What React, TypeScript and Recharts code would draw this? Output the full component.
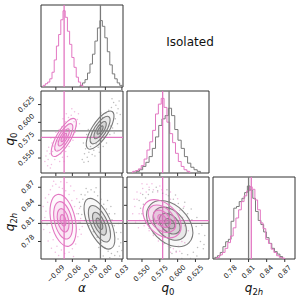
import React from 'react'
import { ComposedChart, Line, ReferenceArea, ReferenceLine, Scatter, XAxis, YAxis } from 'recharts'

const PINK = '#e377c2'
const GRAY = '#7a7a7a'
const FRAME = '#333333'
const FONT = '"DejaVu Sans", sans-serif'
const FS = 7

// panel geometry (px)
const SIZE = 82
const STEP = 86
const X0 = 41
const Y0 = 5
const ML = 40
const MR = 24
const MT = 3
const MB = 34

// axes
const alphaDomain = [-0.117, 0.032]
const q0Domain = [0.529, 0.644]
const q2hDomain = [0.751, 0.887]
const histDomain = [0, 1]
const alphaTicks = [-0.09, -0.06, -0.03, 0, 0.03]
const alphaTickLabels = ['−0.09', '−0.06', '−0.03', '0.00', '0.03']
const q0Ticks = [0.55, 0.575, 0.6, 0.625]
const q0TickLabels = ['0.550', '0.575', '0.600', '0.625']
const q2hTicks = [0.78, 0.81, 0.84, 0.87]
const q2hTickLabels = ['0.78', '0.81', '0.84', '0.87']

// truth / reference values
const pinkTruth = { alpha: -0.075, q0: 0.579, q2h: 0.8145 }
const grayTruth = { alpha: -0.009, q0: 0.588, q2h: 0.81 }

// 1D histograms: bin edges and normalised counts
const pinkAlphaEdges = [-0.113, -0.109, -0.105, -0.101, -0.097, -0.093, -0.089, -0.085, -0.081, -0.077, -0.073, -0.069, -0.065, -0.061, -0.057, -0.053, -0.049, -0.045, -0.041]
const pinkAlphaCounts = [0.02, 0.04, 0.06, 0.1, 0.18, 0.33, 0.5, 0.64, 0.82, 0.93, 0.85, 0.68, 0.52, 0.36, 0.24, 0.12, 0.06, 0.02]
const grayAlphaEdges = [-0.046, -0.0415, -0.037, -0.0325, -0.028, -0.0235, -0.019, -0.0145, -0.01, -0.0055, -0.001, 0.0035, 0.008, 0.0125, 0.017, 0.0215, 0.026, 0.0305]
const grayAlphaCounts = [0.02, 0.05, 0.09, 0.17, 0.28, 0.4, 0.56, 0.72, 0.81, 0.74, 0.6, 0.43, 0.27, 0.16, 0.1, 0.05, 0.02]

const pinkQ0Edges = [0.537, 0.541, 0.545, 0.549, 0.553, 0.557, 0.561, 0.565, 0.569, 0.573, 0.577, 0.581, 0.585, 0.589, 0.593, 0.597, 0.601, 0.605, 0.609, 0.613, 0.617]
const pinkQ0Counts = [0.02, 0.03, 0.05, 0.09, 0.17, 0.28, 0.38, 0.52, 0.72, 0.84, 0.91, 0.8, 0.62, 0.48, 0.37, 0.24, 0.14, 0.08, 0.04, 0.02]
const grayQ0Edges = [0.542, 0.5465, 0.551, 0.5555, 0.56, 0.5645, 0.569, 0.5735, 0.578, 0.5825, 0.587, 0.5915, 0.596, 0.6005, 0.605, 0.6095, 0.614, 0.6185, 0.623, 0.6275, 0.632]
const grayQ0Counts = [0.02, 0.04, 0.08, 0.13, 0.2, 0.3, 0.44, 0.58, 0.66, 0.7, 0.79, 0.7, 0.53, 0.4, 0.3, 0.2, 0.12, 0.07, 0.04, 0.02]

const pinkQ2hEdges = [0.7575, 0.762, 0.7665, 0.771, 0.7755, 0.78, 0.7845, 0.789, 0.7935, 0.798, 0.8025, 0.807, 0.8115, 0.816, 0.8205, 0.825, 0.8295, 0.834, 0.8385, 0.843, 0.8475, 0.852, 0.8565, 0.861, 0.8655, 0.87]
const pinkQ2hCounts = [0.02, 0.05, 0.08, 0.13, 0.2, 0.28, 0.38, 0.5, 0.6, 0.7, 0.77, 0.83, 0.88, 0.85, 0.72, 0.6, 0.44, 0.37, 0.24, 0.19, 0.12, 0.08, 0.04, 0.02, 0.01]
const grayQ2hEdges = [0.754, 0.7585, 0.763, 0.7675, 0.772, 0.7765, 0.781, 0.7855, 0.79, 0.7945, 0.799, 0.8035, 0.808, 0.8125, 0.817, 0.8215, 0.826, 0.8305, 0.835, 0.8395, 0.844, 0.8485, 0.853, 0.8575, 0.862, 0.8665]
const grayQ2hCounts = [0.02, 0.04, 0.08, 0.15, 0.21, 0.24, 0.46, 0.62, 0.64, 0.7, 0.74, 0.81, 0.89, 0.84, 0.74, 0.58, 0.47, 0.42, 0.33, 0.26, 0.19, 0.13, 0.09, 0.06, 0.03]

// 2D contours (outer -> inner), each a ring of control points
type P = [number, number]
const pinkAlphaQ0Rings: P[][] = [
  [[-0.0536, 0.6079], [-0.0512, 0.5953], [-0.0632, 0.5731], [-0.0824, 0.5542], [-0.0976, 0.5498], [-0.1, 0.5624], [-0.088, 0.5846], [-0.0688, 0.6035]],
  [[-0.0598, 0.5998], [-0.058, 0.5907], [-0.0667, 0.5747], [-0.0805, 0.5611], [-0.0914, 0.558], [-0.0932, 0.5671], [-0.0845, 0.5831], [-0.0707, 0.5967]],
  [[-0.0657, 0.592], [-0.0646, 0.5863], [-0.07, 0.5763], [-0.0787, 0.5678], [-0.0855, 0.5658], [-0.0866, 0.5715], [-0.0812, 0.5815], [-0.0725, 0.59]],
  [[-0.0708, 0.5853], [-0.0702, 0.5825], [-0.0729, 0.5776], [-0.0771, 0.5735], [-0.0804, 0.5725], [-0.081, 0.5753], [-0.0783, 0.5802], [-0.0741, 0.5843]],
]
const grayAlphaQ0Rings: P[][] = [
  [[0.0147, 0.618], [0.0173, 0.6046], [0.0042, 0.5821], [-0.0171, 0.5638], [-0.0339, 0.5604], [-0.0365, 0.5738], [-0.0234, 0.5963], [-0.0021, 0.6146]],
  [[0.0079, 0.6099], [0.0098, 0.6003], [0.0003, 0.5841], [-0.015, 0.5709], [-0.0271, 0.5685], [-0.029, 0.5781], [-0.0195, 0.5943], [-0.0042, 0.6075]],
  [[0.0013, 0.6022], [0.0025, 0.5961], [-0.0034, 0.586], [-0.013, 0.5778], [-0.0205, 0.5762], [-0.0217, 0.5823], [-0.0158, 0.5924], [-0.0062, 0.6006]],
  [[-0.0043, 0.5955], [-0.0037, 0.5926], [-0.0066, 0.5876], [-0.0113, 0.5836], [-0.0149, 0.5829], [-0.0155, 0.5858], [-0.0126, 0.5908], [-0.0079, 0.5948]],
]
const pinkAlphaQ2hRings: P[][] = [
  [[-0.0653, 0.7676], [-0.0518, 0.785], [-0.053, 0.82], [-0.068, 0.8521], [-0.0883, 0.8626], [-0.1018, 0.8452], [-0.1006, 0.8102], [-0.0856, 0.7781]],
  [[-0.0685, 0.7809], [-0.0588, 0.7934], [-0.0597, 0.8186], [-0.0705, 0.8417], [-0.0851, 0.8493], [-0.0948, 0.8368], [-0.0939, 0.8116], [-0.0831, 0.7885]],
  [[-0.0716, 0.7937], [-0.0655, 0.8016], [-0.0661, 0.8173], [-0.0728, 0.8318], [-0.082, 0.8365], [-0.0881, 0.8286], [-0.0875, 0.8129], [-0.0808, 0.7984]],
  [[-0.0743, 0.8046], [-0.0713, 0.8085], [-0.0716, 0.8162], [-0.0749, 0.8232], [-0.0793, 0.8256], [-0.0823, 0.8217], [-0.082, 0.814], [-0.0787, 0.807]],
]
const grayAlphaQ2hRings: P[][] = [
  [[0.0124, 0.7638], [0.0202, 0.7835], [0.0098, 0.8184], [-0.0125, 0.8482], [-0.034, 0.8552], [-0.0418, 0.8355], [-0.0314, 0.8006], [-0.0091, 0.7708]],
  [[0.0059, 0.7766], [0.0115, 0.7908], [0.004, 0.8159], [-0.012, 0.8374], [-0.0275, 0.8424], [-0.0331, 0.8282], [-0.0256, 0.8031], [-0.0096, 0.7816]],
  [[-0.0004, 0.7889], [0.0032, 0.7978], [-0.0015, 0.8135], [-0.0116, 0.8269], [-0.0212, 0.8301], [-0.0248, 0.8212], [-0.0201, 0.8055], [-0.01, 0.7921]],
  [[-0.0057, 0.7994], [-0.004, 0.8038], [-0.0063, 0.8115], [-0.0112, 0.818], [-0.0159, 0.8196], [-0.0176, 0.8152], [-0.0153, 0.8075], [-0.0104, 0.801]],
]
const pinkQ0Q2hRings: P[][] = [
  [[0.603, 0.7885], [0.6073, 0.8107], [0.5945, 0.8372], [0.5721, 0.8522], [0.5532, 0.8471], [0.5489, 0.8249], [0.5617, 0.7984], [0.5841, 0.7834]],
  [[0.596, 0.7967], [0.5991, 0.8127], [0.5899, 0.8318], [0.5738, 0.8426], [0.5602, 0.8389], [0.5571, 0.8229], [0.5663, 0.8038], [0.5824, 0.793]],
  [[0.5893, 0.8046], [0.5912, 0.8146], [0.5855, 0.8265], [0.5754, 0.8333], [0.5669, 0.831], [0.565, 0.821], [0.5707, 0.8091], [0.5808, 0.8023]],
  [[0.5836, 0.8114], [0.5845, 0.8162], [0.5817, 0.8221], [0.5768, 0.8254], [0.5726, 0.8242], [0.5717, 0.8194], [0.5745, 0.8135], [0.5794, 0.8102]],
]
const grayQ0Q2hRings: P[][] = [
  [[0.6187, 0.7744], [0.6242, 0.8015], [0.609, 0.8333], [0.582, 0.8512], [0.5591, 0.8448], [0.5536, 0.8177], [0.5688, 0.7859], [0.5958, 0.768]],
  [[0.6104, 0.7843], [0.6143, 0.8038], [0.6034, 0.8267], [0.5839, 0.8396], [0.5674, 0.8349], [0.5635, 0.8154], [0.5744, 0.7925], [0.5939, 0.7796]],
  [[0.6023, 0.7938], [0.6048, 0.806], [0.5979, 0.8203], [0.5858, 0.8283], [0.5755, 0.8254], [0.573, 0.8132], [0.5799, 0.7989], [0.592, 0.7909]],
  [[0.5955, 0.8019], [0.5967, 0.8078], [0.5933, 0.8148], [0.5874, 0.8188], [0.5823, 0.8173], [0.5811, 0.8114], [0.5845, 0.8044], [0.5904, 0.8004]],
]

// samples outside the outer contour
const pinkAlphaQ0Cloud: P[] = [[-0.104, 0.548], [-0.101, 0.556], [-0.098, 0.541], [-0.106, 0.56], [-0.095, 0.567], [-0.092, 0.548], [-0.089, 0.553], [-0.087, 0.574], [-0.093, 0.578], [-0.083, 0.545], [-0.078, 0.551], [-0.072, 0.559], [-0.066, 0.566], [-0.059, 0.575], [-0.055, 0.586], [-0.051, 0.604], [-0.049, 0.612], [-0.056, 0.615], [-0.062, 0.61], [-0.067, 0.607], [-0.073, 0.601], [-0.079, 0.594], [-0.084, 0.59], [-0.097, 0.571], [-0.103, 0.565], [-0.061, 0.619], [-0.047, 0.598], [-0.11, 0.545], [-0.1, 0.536], [-0.058, 0.583],
  [-0.108, 0.553], [-0.096, 0.559], [-0.091, 0.562], [-0.086, 0.561], [-0.081, 0.556], [-0.075, 0.545], [-0.069, 0.552], [-0.064, 0.574], [-0.053, 0.595], [-0.057, 0.601], [-0.071, 0.612], [-0.077, 0.605], [-0.09, 0.586], [-0.099, 0.578], [-0.105, 0.539]]
const grayAlphaQ0Cloud: P[] = [[-0.038, 0.556], [-0.036, 0.563], [-0.033, 0.551], [-0.03, 0.558], [-0.04, 0.571], [-0.027, 0.566], [-0.024, 0.555], [-0.021, 0.561], [-0.028, 0.578], [-0.034, 0.583], [-0.017, 0.57], [-0.013, 0.565], [-0.008, 0.575], [-0.002, 0.579], [0.004, 0.588], [0.009, 0.595], [0.013, 0.592], [0.018, 0.605], [0.021, 0.613], [0.019, 0.624], [0.015, 0.628], [0.011, 0.621], [0.006, 0.617], [0.001, 0.613], [-0.005, 0.607], [-0.01, 0.601], [-0.016, 0.596], [0.023, 0.619], [-0.042, 0.548], [0.025, 0.63],
  [-0.039, 0.544], [-0.031, 0.545], [-0.026, 0.572], [-0.019, 0.553], [-0.011, 0.558], [-0.004, 0.566], [0.002, 0.571], [0.008, 0.583], [0.016, 0.585], [0.022, 0.598], [0.027, 0.611], [0.012, 0.633], [-0.008, 0.613], [-0.02, 0.589], [-0.031, 0.59]]
const pinkAlphaQ2hCloud: P[] = [[-0.108, 0.83], [-0.105, 0.845], [-0.103, 0.858], [-0.1, 0.866], [-0.096, 0.872], [-0.09, 0.875], [-0.084, 0.87], [-0.078, 0.868], [-0.072, 0.864], [-0.066, 0.858], [-0.061, 0.848], [-0.056, 0.838], [-0.052, 0.826], [-0.049, 0.812], [-0.047, 0.8], [-0.05, 0.788], [-0.054, 0.776], [-0.06, 0.768], [-0.066, 0.762], [-0.074, 0.76], [-0.08, 0.766], [-0.088, 0.772], [-0.095, 0.783], [-0.101, 0.795], [-0.106, 0.808], [-0.11, 0.82], [-0.113, 0.838], [-0.044, 0.792], [-0.058, 0.755], [-0.07, 0.878],
  [-0.112, 0.8], [-0.109, 0.852], [-0.104, 0.781], [-0.098, 0.769], [-0.091, 0.762], [-0.085, 0.757], [-0.063, 0.872], [-0.057, 0.864], [-0.052, 0.851], [-0.047, 0.835], [-0.045, 0.818], [-0.042, 0.805], [-0.094, 0.88], [-0.081, 0.879], [-0.115, 0.812]]
const grayAlphaQ2hCloud: P[] = [[-0.045, 0.838], [-0.043, 0.825], [-0.041, 0.85], [-0.037, 0.857], [-0.032, 0.862], [-0.026, 0.866], [-0.02, 0.862], [-0.014, 0.856], [-0.008, 0.85], [-0.003, 0.842], [0.002, 0.834], [0.007, 0.826], [0.012, 0.816], [0.016, 0.806], [0.02, 0.795], [0.023, 0.784], [0.025, 0.772], [0.022, 0.763], [0.017, 0.757], [0.011, 0.76], [0.005, 0.764], [-0.001, 0.77], [-0.008, 0.778], [-0.015, 0.787], [-0.022, 0.796], [-0.03, 0.806], [-0.037, 0.815], [-0.046, 0.812], [0.028, 0.778], [-0.004, 0.756],
  [-0.049, 0.826], [-0.047, 0.845], [-0.044, 0.858], [-0.035, 0.868], [-0.017, 0.869], [-0.009, 0.862], [0.004, 0.848], [0.01, 0.838], [0.017, 0.826], [0.024, 0.81], [0.028, 0.795], [0.03, 0.765], [0.026, 0.756], [0.008, 0.753], [-0.012, 0.77]]
const pinkQ0Q2hCloud: P[] = [[0.54, 0.838], [0.543, 0.85], [0.546, 0.826], [0.548, 0.86], [0.551, 0.868], [0.556, 0.862], [0.56, 0.87], [0.566, 0.866], [0.572, 0.862], [0.578, 0.866], [0.584, 0.858], [0.59, 0.85], [0.596, 0.842], [0.603, 0.832], [0.607, 0.82], [0.61, 0.806], [0.611, 0.792], [0.606, 0.78], [0.601, 0.772], [0.594, 0.768], [0.587, 0.772], [0.58, 0.776], [0.573, 0.781], [0.566, 0.79], [0.56, 0.798], [0.553, 0.806], [0.547, 0.815], [0.541, 0.812], [0.598, 0.762], [0.557, 0.875],
  [0.537, 0.826], [0.539, 0.85], [0.543, 0.862], [0.55, 0.876], [0.564, 0.876], [0.575, 0.872], [0.59, 0.862], [0.6, 0.851], [0.609, 0.838], [0.614, 0.815], [0.615, 0.798], [0.61, 0.778], [0.603, 0.764], [0.59, 0.762], [0.545, 0.803]]
const grayQ0Q2hCloud: P[] = [[0.552, 0.842], [0.555, 0.852], [0.559, 0.858], [0.565, 0.862], [0.572, 0.864], [0.579, 0.86], [0.587, 0.856], [0.594, 0.85], [0.601, 0.843], [0.608, 0.835], [0.614, 0.826], [0.62, 0.816], [0.626, 0.805], [0.63, 0.793], [0.632, 0.78], [0.628, 0.77], [0.622, 0.762], [0.614, 0.758], [0.606, 0.76], [0.598, 0.764], [0.59, 0.77], [0.582, 0.777], [0.574, 0.785], [0.566, 0.793], [0.56, 0.802], [0.555, 0.812], [0.55, 0.826], [0.636, 0.768], [0.548, 0.835], [0.618, 0.752],
  [0.546, 0.848], [0.551, 0.858], [0.56, 0.866], [0.57, 0.87], [0.585, 0.866], [0.597, 0.857], [0.61, 0.845], [0.619, 0.834], [0.627, 0.82], [0.634, 0.807], [0.638, 0.79], [0.637, 0.775], [0.627, 0.756], [0.606, 0.752], [0.592, 0.76]]

const ringOpacity = [0.05, 0.12, 0.16, 0.22]

const toPts = (list: P[]) => list.map(([x, y]) => ({ x, y }))
const toSteps = (edges: number[], counts: number[]) => [
  { x: edges[0], y: 0 },
  ...counts.map((c, i) => ({ x: edges[i], y: c })),
  { x: edges[edges.length - 1], y: 0 },
]

function labelHalf(s: string) {
  let w = 0
  for (const c of s) w += c === '.' ? 0.318 : c === '−' ? 0.838 : 0.636
  return (w * FS + FS) * 0.3536
}

function XTick(props: any) {
  const { x, y, payload, ticks, labels } = props
  const s = labels[ticks.indexOf(payload.value)] ?? ''
  const cy = y + labelHalf(s)
  return (
    <text x={x} y={cy} transform={`rotate(-45, ${x}, ${cy})`} textAnchor="middle" dominantBaseline="central" fontSize={FS} fontFamily={FONT} fill="#222">
      {s}
    </text>
  )
}

function YTick(props: any) {
  const { x, y, payload, ticks, labels } = props
  const s = labels[ticks.indexOf(payload.value)] ?? ''
  const cx = x - labelHalf(s)
  return (
    <text x={cx} y={y} transform={`rotate(-45, ${cx}, ${y})`} textAnchor="middle" dominantBaseline="central" fontSize={FS} fontFamily={FONT} fill="#222">
      {s}
    </text>
  )
}

const NoTick = () => <g />

type PanelProps = {
  row: number
  col: number
  xDomain: number[]
  yDomain: number[]
  xTicks?: number[]
  xLabels?: string[]
  yTicks?: number[]
  yLabels?: string[]
  children?: React.ReactNode
}

function Panel({ row, col, xDomain, yDomain, xTicks, xLabels, yTicks, yLabels, children }: PanelProps) {
  return (
    <div style={{ position: 'absolute', left: X0 + col * STEP - ML, top: Y0 + row * STEP - MT }}>
      <ComposedChart width={ML + SIZE + MR} height={MT + SIZE + MB} margin={{ top: MT, right: MR, bottom: 0, left: 0 }}>
        <XAxis
          type="number"
          dataKey="x"
          domain={xDomain}
          allowDataOverflow
          ticks={xTicks ?? []}
          interval={0}
          height={MB}
          axisLine={false}
          tickSize={3}
          tickLine={xTicks ? { stroke: FRAME } : false}
          tick={xTicks && xLabels ? <XTick ticks={xTicks} labels={xLabels} /> : <NoTick />}
        />
        <YAxis
          type="number"
          dataKey="y"
          domain={yDomain}
          allowDataOverflow
          ticks={yTicks ?? []}
          interval={0}
          width={ML}
          axisLine={false}
          tickSize={3}
          tickLine={yTicks ? { stroke: FRAME } : false}
          tick={yTicks && yLabels ? <YTick ticks={yTicks} labels={yLabels} /> : <NoTick />}
        />
        {children}
        <ReferenceArea x1={xDomain[0]} x2={xDomain[1]} y1={yDomain[0]} y2={yDomain[1]} fill="none" stroke={FRAME} strokeWidth={1} ifOverflow="visible" />
      </ComposedChart>
    </div>
  )
}

function histLines(edgesA: number[], countsA: number[], edgesB: number[], countsB: number[], xPink: number, xGray: number) {
  return [
    <Line key="hg" data={toSteps(edgesB, countsB)} dataKey="y" type="stepAfter" stroke={GRAY} strokeWidth={1} dot={false} isAnimationActive={false} />,
    <Line key="hp" data={toSteps(edgesA, countsA)} dataKey="y" type="stepAfter" stroke={PINK} strokeWidth={1} dot={false} isAnimationActive={false} />,
    <ReferenceLine key="tg" x={xGray} stroke={GRAY} strokeWidth={1.3} ifOverflow="visible" />,
    <ReferenceLine key="tp" x={xPink} stroke={PINK} strokeWidth={1.3} ifOverflow="visible" />,
  ]
}

function densityLayers(
  pinkCloud: P[], grayCloud: P[], pinkRings: P[][], grayRings: P[][],
  pinkX: number, pinkY: number, grayX: number, grayY: number,
) {
  const dot = (color: string) => (p: any) => <circle cx={p.cx} cy={p.cy} r={0.75} fill={color} fillOpacity={0.5} />
  const ring = (color: string, pts: P[], i: number, key: string) => (
    <Scatter
      key={key}
      data={toPts(pts)}
      fill={color}
      line={{ stroke: color, strokeWidth: 1.1, fill: color, fillOpacity: ringOpacity[i] }}
      lineType="joint"
      lineJointType="basisClosed"
      shape={NoTick}
      isAnimationActive={false}
    />
  )
  return [
    <Scatter key="cg" data={toPts(grayCloud)} fill={GRAY} shape={dot(GRAY)} isAnimationActive={false} />,
    <Scatter key="cp" data={toPts(pinkCloud)} fill={PINK} shape={dot(PINK)} isAnimationActive={false} />,
    ...grayRings.map((r, i) => ring(GRAY, r, i, `rg${i}`)),
    ...pinkRings.map((r, i) => ring(PINK, r, i, `rp${i}`)),
    <ReferenceLine key="gx" x={grayX} stroke={GRAY} strokeWidth={1.3} ifOverflow="visible" />,
    <ReferenceLine key="gy" y={grayY} stroke={GRAY} strokeWidth={1.3} ifOverflow="visible" />,
    <ReferenceLine key="px" x={pinkX} stroke={PINK} strokeWidth={1.3} ifOverflow="visible" />,
    <ReferenceLine key="py" y={pinkY} stroke={PINK} strokeWidth={1.3} ifOverflow="visible" />,
  ]
}

export default function App() {
  return (
    <div style={{ position: 'absolute', left: 0, top: 0, width: 301, height: 301, background: '#fff', overflow: 'hidden' }}>
      <Panel row={0} col={0} xDomain={alphaDomain} yDomain={histDomain} xTicks={alphaTicks}>
        {histLines(pinkAlphaEdges, pinkAlphaCounts, grayAlphaEdges, grayAlphaCounts, pinkTruth.alpha, grayTruth.alpha)}
      </Panel>
      <Panel row={1} col={0} xDomain={alphaDomain} yDomain={q0Domain} xTicks={alphaTicks} yTicks={q0Ticks} yLabels={q0TickLabels}>
        {densityLayers(pinkAlphaQ0Cloud, grayAlphaQ0Cloud, pinkAlphaQ0Rings, grayAlphaQ0Rings, pinkTruth.alpha, pinkTruth.q0, grayTruth.alpha, grayTruth.q0)}
      </Panel>
      <Panel row={2} col={0} xDomain={alphaDomain} yDomain={q2hDomain} xTicks={alphaTicks} xLabels={alphaTickLabels} yTicks={q2hTicks} yLabels={q2hTickLabels}>
        {densityLayers(pinkAlphaQ2hCloud, grayAlphaQ2hCloud, pinkAlphaQ2hRings, grayAlphaQ2hRings, pinkTruth.alpha, pinkTruth.q2h, grayTruth.alpha, grayTruth.q2h)}
      </Panel>
      <Panel row={1} col={1} xDomain={q0Domain} yDomain={histDomain} xTicks={q0Ticks}>
        {histLines(pinkQ0Edges, pinkQ0Counts, grayQ0Edges, grayQ0Counts, pinkTruth.q0, grayTruth.q0)}
      </Panel>
      <Panel row={2} col={1} xDomain={q0Domain} yDomain={q2hDomain} xTicks={q0Ticks} xLabels={q0TickLabels} yTicks={q2hTicks}>
        {densityLayers(pinkQ0Q2hCloud, grayQ0Q2hCloud, pinkQ0Q2hRings, grayQ0Q2hRings, pinkTruth.q0, pinkTruth.q2h, grayTruth.q0, grayTruth.q2h)}
      </Panel>
      <Panel row={2} col={2} xDomain={q2hDomain} yDomain={histDomain} xTicks={q2hTicks} xLabels={q2hTickLabels}>
        {histLines(pinkQ2hEdges, pinkQ2hCounts, grayQ2hEdges, grayQ2hCounts, pinkTruth.q2h, grayTruth.q2h)}
      </Panel>
      <svg width={301} height={301} style={{ position: 'absolute', left: 0, top: 0, pointerEvents: 'none' }} fontFamily={FONT} fill="#111">
        <text x={190} y={46} fontSize={12} textAnchor="middle">Isolated</text>
        <text x={82} y={292} fontSize={12} textAnchor="middle" fontStyle="italic">α</text>
        <text x={168} y={292} fontSize={12} textAnchor="middle">
          <tspan fontStyle="italic">q</tspan>
          <tspan fontSize={8.5} dy={2.5}>0</tspan>
        </text>
        <text x={254} y={292} fontSize={12} textAnchor="middle">
          <tspan fontStyle="italic">q</tspan>
          <tspan fontSize={8.5} dy={2.5}>2</tspan>
          <tspan fontSize={8.5} fontStyle="italic">h</tspan>
        </text>
        <text x={14} y={139} fontSize={12} textAnchor="middle" transform="rotate(-90, 14, 139)">
          <tspan fontStyle="italic">q</tspan>
          <tspan fontSize={8.5} dy={2.5}>0</tspan>
        </text>
        <text x={14} y={222} fontSize={12} textAnchor="middle" transform="rotate(-90, 14, 222)">
          <tspan fontStyle="italic">q</tspan>
          <tspan fontSize={8.5} dy={2.5}>2</tspan>
          <tspan fontSize={8.5} fontStyle="italic">h</tspan>
        </text>
      </svg>
    </div>
  )
}
